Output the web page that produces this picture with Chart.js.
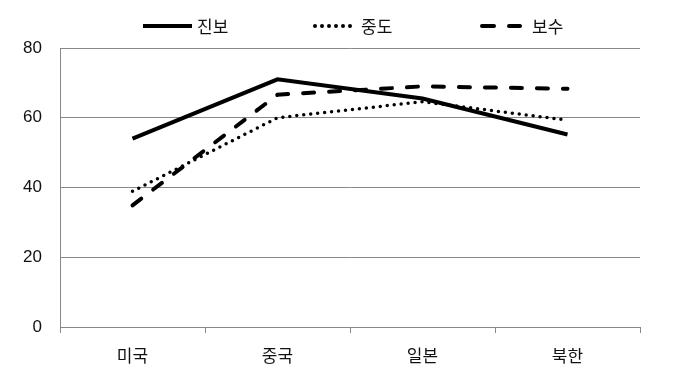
<!DOCTYPE html>
<html><head><meta charset="utf-8">
<script src="https://cdn.jsdelivr.net/npm/chart.js@4/dist/chart.umd.min.js"></script>
<style>
html,body{margin:0;padding:0;background:#fff;}
#wrap{position:relative;width:681px;height:387px;}
#legend{position:absolute;top:15px;left:0;width:681px;height:22px;font-family:"Noto Sans CJK KR",sans-serif;font-size:17px;color:#111;}
.item{position:absolute;top:0;height:22px;}
.item svg{position:absolute;top:6px;left:0;}
.item span{position:absolute;top:0;line-height:22px;white-space:nowrap;}
</style></head>
<body>
<div id="wrap">
<canvas id="c" width="681" height="387"></canvas>
<div id="legend"></div>
</div>
<script>
const categories = ["미국", "중국", "일본", "북한"];
const seriesNames = ["진보", "중도", "보수"];
const progressive = [54, 71, 65.5, 55.2];
const moderate = [38.9, 60, 64.6, 59.3];
const conservative = [34.9, 66.6, 69, 68.3];
const yTicks = [0, 20, 40, 60, 80];

const styles = [
  {dash: [], cap: 'butt', width: 4},
  {dash: [0, 7], cap: 'round', width: 3.5},
  {dash: [11, 15], cap: 'round', width: 4}
];
const legendDash = [[], [0, 7], [12, 15]];
const values = [progressive, moderate, conservative];

// HTML legend
const legendX = [143, 313, 480];
const legendLen = [49, 42, 42];
const textX = [197, 361, 532];
const lg = document.getElementById('legend');
seriesNames.forEach((n, i) => {
  const s = styles[i];
  const d = document.createElement('div');
  d.className = 'item';
  d.style.left = legendX[i] + 'px';
  const L = legendLen[i];
  const pad = s.cap === 'round' ? 2 : 0;
  const da = legendDash[i].length ? `stroke-dasharray="${legendDash[i].join(',')}"` : '';
  d.innerHTML = `<svg width="${L}" height="10"><line x1="${pad}" y1="5" x2="${L - pad}" y2="5" stroke="#000" stroke-width="4" stroke-linecap="${s.cap}" ${da}/></svg><span style="left:${textX[i] - legendX[i]}px">${n}</span>`;
  lg.appendChild(d);
});

new Chart(document.getElementById('c'), {
  type: 'line',
  data: {
    labels: categories,
    datasets: seriesNames.map((n, i) => ({
      label: n,
      data: values[i],
      borderColor: '#000',
      backgroundColor: '#000',
      borderWidth: styles[i].width,
      borderDash: styles[i].dash,
      borderCapStyle: styles[i].cap,
      pointRadius: 0,
      tension: 0,
      fill: false
    }))
  },
  options: {
    responsive: false,
    animation: false,
    layout: {padding: {top: 48, right: 41, left: 0, bottom: 0}},
    plugins: {legend: {display: false}, tooltip: {enabled: false}},
    scales: {
      x: {
        offset: true,
        grid: {offset: true, drawOnChartArea: false, color: '#888', tickLength: 6, lineWidth: 1},
        border: {color: '#888', width: 1},
        ticks: {color: '#111', font: {family: '"Noto Sans CJK KR", sans-serif', size: 17}, padding: 12},
        afterFit: s => { s.height = 60; }
      },
      y: {
        min: 0, max: 80,
        afterBuildTicks: s => { s.ticks = yTicks.map(v => ({value: v})); },
        grid: {color: '#888', drawTicks: false, lineWidth: 1},
        border: {color: '#888', width: 1},
        ticks: {color: '#111', font: {family: '"Liberation Sans", sans-serif', size: 17}, padding: 18},
        afterFit: s => { s.width = 60; }
      }
    }
  }
});
</script>
</body></html>
